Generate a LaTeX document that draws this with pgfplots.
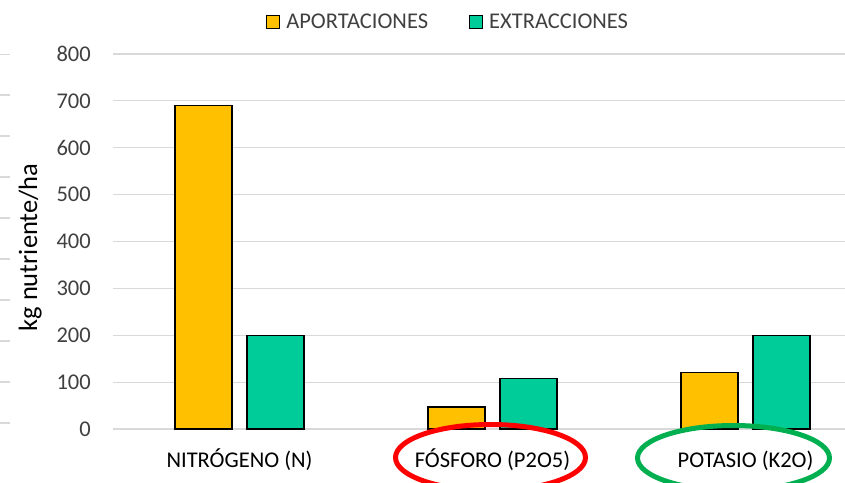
\documentclass[border=0pt]{standalone}
\usepackage{fontspec}
\setmainfont{Carlito}
\usepackage{pgfplots}
\pgfplotsset{compat=1.18}

\definecolor{aport}{HTML}{FFC000}
\definecolor{extr}{HTML}{00CC99}
\definecolor{gridgray}{HTML}{D9D9D9}
\definecolor{ticktext}{HTML}{404040}
\definecolor{circred}{HTML}{FF0000}
\definecolor{circgreen}{HTML}{00B050}

\newcommand{\chartfont}{\fontsize{22.5}{27}\selectfont}

\pgfplotsset{
  sqlegend/.style={legend image code/.code={
    \draw[##1, draw=black, line width=1.1pt] (0pt,-6.5pt) rectangle (13pt,6.5pt);}},
}

\begin{document}
\begin{tikzpicture}[x=1pt,y=1pt]

% short gridline stubs at the left edge
\begin{axis}[
  at={(0pt,59pt)}, anchor=south west, scale only axis,
  width=10pt, height=369pt,
  xmin=0, xmax=1, ymin=0, ymax=9,
  xtick=\empty, ytick=\empty,
  axis line style={draw=none},
]
\pgfplotsinvokeforeach{0,...,9}{
  \draw[gridgray, line width=1.2pt] (axis cs:0,#1) -- (axis cs:1,#1);
}
\end{axis}

% main chart
\begin{axis}[
  at={(113pt,53pt)}, anchor=south west, scale only axis,
  width=759pt, height=375pt,
  xmin=-0.5, xmax=2.5, ymin=0, ymax=800,
  ytick={0,100,...,800},
  xtick={0,1,2},
  xticklabels={NITRÓGENO (N), FÓSFORO (P2O5), POTASIO (K2O)},
  ymajorgrids, major grid style={gridgray, line width=1.2pt},
  axis line style={draw=none}, tick style={draw=none},
  major tick length=0pt,
  /pgf/number format/assume math mode=true,
  yticklabel style={font=\chartfont, text=ticktext, anchor=east, inner sep=0pt, xshift=-22pt},
  xticklabel style={font=\chartfont, text=black, anchor=base, inner sep=0pt, yshift=-38pt},
  ylabel={kg nutriente/ha},
  every axis y label/.style={at={(axis description cs:-0.1001,0.484)}, rotate=90, anchor=base,
    font=\fontsize{26.5}{30}\selectfont, text=black},
  legend columns=2,
  legend style={at={(axis description cs:0.2016,1.0853)}, anchor=west,
    draw=none, fill=none, inner sep=0pt, font=\chartfont, text=ticktext,
    /tikz/every odd column/.append style={column sep=4pt},
    /tikz/every even column/.append style={column sep=39pt}},
]
\addplot[ybar, bar width=57pt, bar shift=-36pt, fill=aport, draw=black, line width=1.1pt, sqlegend]
  coordinates {(0,690) (1,47) (2,120)};
\addlegendentry{APORTACIONES}
\addplot[ybar, bar width=57pt, bar shift=36pt, fill=extr, draw=black, line width=1.1pt, sqlegend]
  coordinates {(0,200) (1,108) (2,200)};
\addlegendentry{EXTRACCIONES}
\end{axis}

% highlight rings around two category names
\draw[circred, line width=5pt] (490.5pt,24.5pt) ellipse [x radius=95pt, y radius=33pt];
\draw[circgreen, line width=5pt] (733.5pt,24pt) ellipse [x radius=96pt, y radius=32.5pt];

\pgfresetboundingbox
\path[use as bounding box] (0pt,0pt) rectangle (845pt,482pt);
\end{tikzpicture}
\end{document}
